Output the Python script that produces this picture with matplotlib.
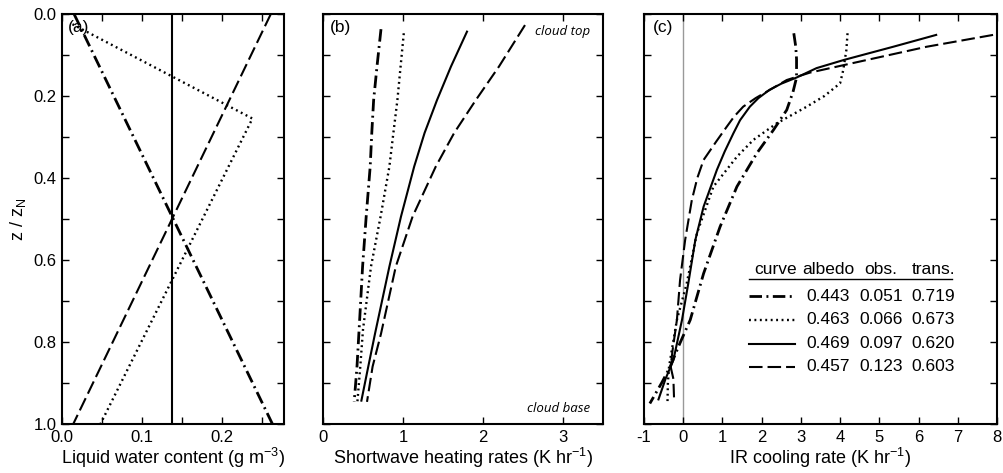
import matplotlib
matplotlib.use("Agg")
import matplotlib.pyplot as plt
from matplotlib.lines import Line2D

plt.rcParams['font.family'] = ['Liberation Sans', 'DejaVu Sans']
plt.rcParams['mathtext.default'] = 'regular'
plt.rcParams['axes.unicode_minus'] = False

# line styles for the four cases
styles = {
    'dashdot': dict(color='black', lw=2.0, ls=(0, (4.5, 1.6, 0.7, 1.6))),
    'dotted': dict(color='black', lw=1.7, ls=(0, (0.8, 1.5))),
    'solid': dict(color='black', lw=1.5, ls='-'),
    'dashed': dict(color='black', lw=1.5, ls=(0, (6.5, 2.4))),
}
order = ['dashdot', 'dotted', 'solid', 'dashed']

# (a) liquid water content profiles, z/zN vs LWC (g m-3)
lwc_z = {
    'dashdot': [0.0, 1.0],
    'dotted': [0.025, 0.255, 1.0],
    'solid': [0.0, 1.0],
    'dashed': [0.0, 1.0],
}
lwc_x = {
    'dashdot': [0.015, 0.263],
    'dotted': [0.013, 0.238, 0.048],
    'solid': [0.137, 0.137],
    'dashed': [0.261, 0.014],
}

# (b) shortwave heating rates (K/hr)
sw_z = {
    'dashdot': [0.037, 0.128, 0.21, 0.29, 0.372, 0.494, 0.616, 0.74, 0.86, 0.946],
    'dotted': [0.047, 0.128, 0.21, 0.29, 0.372, 0.494, 0.616, 0.77, 0.86, 0.946],
    'solid': [0.043, 0.128, 0.21, 0.29, 0.372, 0.494, 0.616, 0.78, 0.86, 0.943],
    'dashed': [0.027, 0.128, 0.21, 0.29, 0.372, 0.494, 0.616, 0.78, 0.86, 0.946],
}
sw_x = {
    'dashdot': [0.725, 0.675, 0.633, 0.61, 0.59, 0.54, 0.495, 0.46, 0.425, 0.39],
    'dotted': [1.01, 0.97, 0.93, 0.88, 0.83, 0.72, 0.60, 0.50, 0.466, 0.43],
    'solid': [1.80, 1.60, 1.425, 1.27, 1.14, 0.975, 0.83, 0.65, 0.566, 0.48],
    'dashed': [2.525, 2.20, 1.91, 1.64, 1.41, 1.12, 0.91, 0.725, 0.62, 0.55],
}

# (c) IR cooling rates (K/hr)
ir_z = {
    'dashdot': [0.047, 0.08, 0.11, 0.155, 0.19, 0.234, 0.283, 0.34, 0.421, 0.519, 0.633, 0.746, 0.811, 0.86, 0.90, 0.95],
    'dotted': [0.047, 0.088, 0.137, 0.169, 0.20, 0.226, 0.267, 0.307, 0.348, 0.421, 0.535, 0.657, 0.746, 0.82, 0.86, 0.90, 0.946],
    'solid': [0.051, 0.08, 0.112, 0.132, 0.155, 0.17, 0.185, 0.205, 0.226, 0.259, 0.291, 0.335, 0.38, 0.47, 0.551, 0.657, 0.746, 0.844, 0.89, 0.94],
    'dashed': [0.051, 0.08, 0.116, 0.143, 0.161, 0.185, 0.205, 0.226, 0.25, 0.275, 0.31, 0.356, 0.40, 0.454, 0.551, 0.649, 0.746, 0.82, 0.86, 0.89, 0.946],
}
ir_x = {
    'dashdot': [2.82, 2.87, 2.89, 2.89, 2.80, 2.64, 2.30, 1.875, 1.37, 0.94, 0.52, 0.18, -0.12, -0.33, -0.55, -0.85],
    'dotted': [4.19, 4.16, 4.08, 4.0, 3.6, 3.15, 2.38, 1.79, 1.37, 0.77, 0.35, 0.09, -0.16, -0.29, -0.36, -0.39, -0.40],
    'solid': [6.45, 5.35, 4.1, 3.40, 2.89, 2.50, 2.2, 1.92, 1.70, 1.45, 1.28, 1.06, 0.86, 0.52, 0.31, 0.13, -0.03, -0.25, -0.45, -0.63],
    'dashed': [7.9, 6.2, 4.5, 3.23, 2.64, 2.21, 1.85, 1.53, 1.30, 1.11, 0.85, 0.52, 0.36, 0.22, 0.05, -0.08, -0.16, -0.27, -0.32, -0.25, -0.23],
}

# table in panel (c)
table_header = ['curve', 'albedo', 'obs.', 'trans.']
albedo = ['0.443', '0.463', '0.469', '0.457']
obs = ['0.051', '0.066', '0.097', '0.123']
trans = ['0.719', '0.673', '0.620', '0.603']

fig = plt.figure(figsize=(10.04, 4.73), dpi=100)
ax_a = fig.add_axes([0.0618, 0.1036, 0.2211, 0.8668])
ax_b = fig.add_axes([0.3217, 0.1036, 0.2789, 0.8668])
ax_c = fig.add_axes([0.6414, 0.1036, 0.3516, 0.8668])

for ax in (ax_a, ax_b, ax_c):
    ax.set_ylim(1.0, 0.0)
    ax.set_yticks([0.0, 0.2, 0.4, 0.6, 0.8, 1.0])
    ax.set_yticks([0.1, 0.3, 0.5, 0.7, 0.9], minor=True)
    ax.tick_params(which='both', direction='in', top=True, right=True,
                   length=5, width=1, labelsize=12, colors='black', pad=4)
    for s in ax.spines.values():
        s.set_linewidth(1.5)

for name in order:
    ax_a.plot(lwc_x[name], lwc_z[name], **styles[name])
    ax_b.plot(sw_x[name], sw_z[name], **styles[name])
    ax_c.plot(ir_x[name], ir_z[name], **styles[name])

# panel a
ax_a.set_xlim(0, 0.2775)
ax_a.set_xticks([0.0, 0.1, 0.2])
ax_a.set_xticks([0.05, 0.15, 0.25], minor=True)
ax_a.set_xticklabels(['0.0', '0.1', '0.2'])
ax_a.set_yticklabels(['0.0', '0.2', '0.4', '0.6', '0.8', '1.0'])
ax_a.set_ylabel('z / z$_N$', fontsize=13, labelpad=4)
ax_a.set_xlabel('Liquid water content (g m$^{-3}$)', fontsize=13, labelpad=1)
ax_a.text(0.025, 0.985, '(a)', transform=ax_a.transAxes, ha='left', va='top', fontsize=12.5)

# panel b
ax_b.set_xlim(0, 3.5)
ax_b.set_xticks([0, 1, 2, 3])
ax_b.set_yticklabels([])
ax_b.set_xlabel('Shortwave heating rates (K hr$^{-1}$)', fontsize=13, labelpad=1)
ax_b.text(0.025, 0.985, '(b)', transform=ax_b.transAxes, ha='left', va='top', fontsize=12.5)
ax_b.text(0.955, 0.958, 'cloud top', transform=ax_b.transAxes, ha='right', va='center',
          fontsize=9.5, style='italic', family='Open Sans')
ax_b.text(0.955, 0.037, 'cloud base', transform=ax_b.transAxes, ha='right', va='center',
          fontsize=9.5, style='italic', family='Open Sans')

# panel c
ax_c.set_xlim(-1, 8)
ax_c.set_xticks(range(-1, 9))
ax_c.set_yticklabels([])
ax_c.axvline(0, color='#999999', lw=1, zorder=0)
ax_c.set_xlabel('IR cooling rate (K hr$^{-1}$)', fontsize=13, labelpad=1)
ax_c.text(0.025, 0.985, '(c)', transform=ax_c.transAxes, ha='left', va='top', fontsize=12.5)

col_x = [0.372, 0.522, 0.672, 0.820]
row_y = [0.311, 0.254, 0.196, 0.140]
for cx, h in zip(col_x, table_header):
    ax_c.text(cx, 0.378, h, transform=ax_c.transAxes, ha='center', va='center', fontsize=12.5)
ax_c.add_line(Line2D([0.297, 0.873], [0.353, 0.353], transform=ax_c.transAxes,
                     color='black', lw=1))
for i, name in enumerate(order):
    ry = row_y[i]
    ax_c.add_line(Line2D([0.297, 0.428], [ry, ry], transform=ax_c.transAxes, **styles[name]))
    for cx, val in zip(col_x[1:], [albedo[i], obs[i], trans[i]]):
        ax_c.text(cx, ry, val, transform=ax_c.transAxes, ha='center', va='center', fontsize=12.5)

fig.savefig('out.png', dpi=100)
